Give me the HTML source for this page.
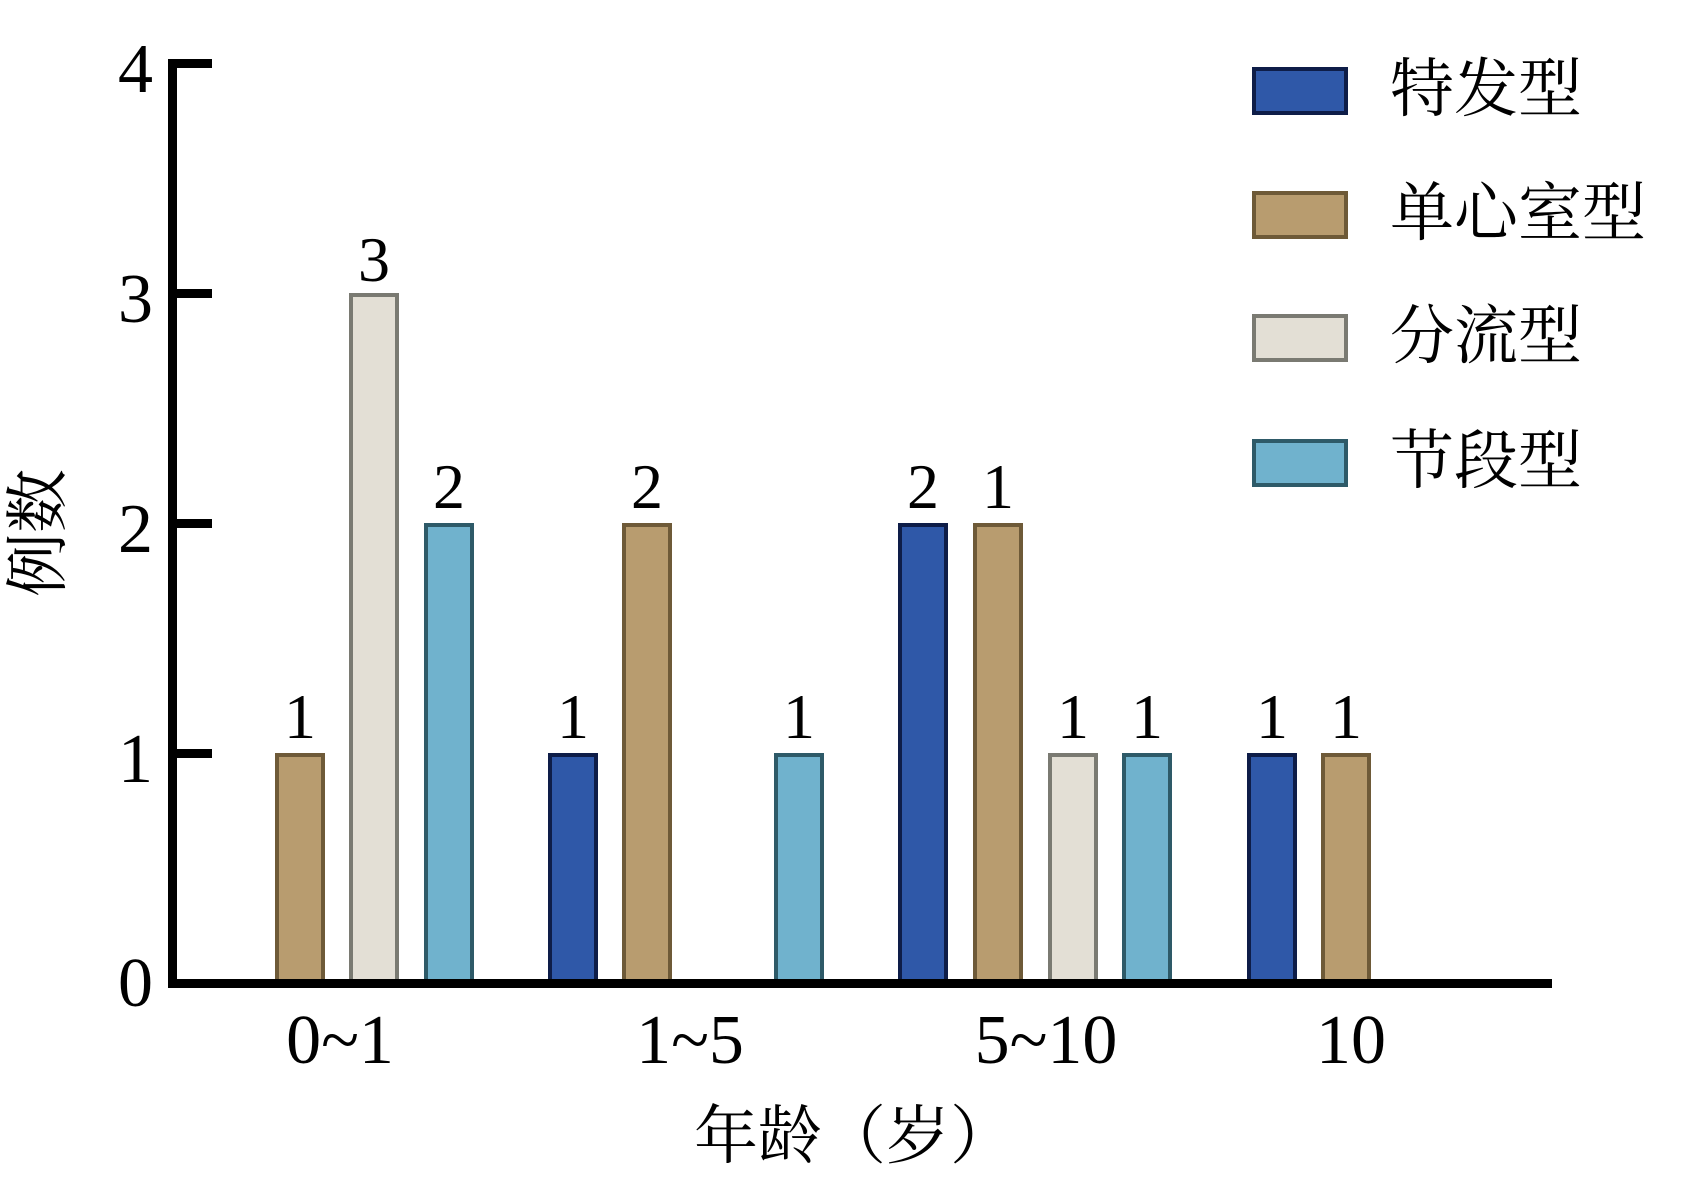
<!DOCTYPE html>
<html><head><meta charset="utf-8"><style>
html,body{margin:0;padding:0;background:#fff;}
svg{display:block;}
.t{font-family:"Liberation Serif","Noto Serif CJK SC",serif;fill:#000;}
</style></head><body>
<svg width="1706" height="1181" viewBox="0 0 1706 1181" xmlns="http://www.w3.org/2000/svg">
<rect width="1706" height="1181" fill="#fff"/>
<!-- bars -->
<g stroke-width="4">
<rect x="277" y="755" width="46" height="229" fill="#b89c6f" stroke="#6e5a38"/>
<rect x="351" y="295" width="46" height="689" fill="#e3dfd5" stroke="#7a7a72"/>
<rect x="426" y="525" width="46" height="459" fill="#70b2cd" stroke="#2e5a68"/>
<rect x="550" y="755" width="46" height="229" fill="#2f58a8" stroke="#0e1d48"/>
<rect x="624" y="525" width="46" height="459" fill="#b89c6f" stroke="#6e5a38"/>
<rect x="776" y="755" width="46" height="229" fill="#70b2cd" stroke="#2e5a68"/>
<rect x="900" y="525" width="46" height="459" fill="#2f58a8" stroke="#0e1d48"/>
<rect x="975" y="525" width="46" height="459" fill="#b89c6f" stroke="#6e5a38"/>
<rect x="1050" y="755" width="46" height="229" fill="#e3dfd5" stroke="#7a7a72"/>
<rect x="1124" y="755" width="46" height="229" fill="#70b2cd" stroke="#2e5a68"/>
<rect x="1249" y="755" width="46" height="229" fill="#2f58a8" stroke="#0e1d48"/>
<rect x="1323" y="755" width="46" height="229" fill="#b89c6f" stroke="#6e5a38"/>
</g>
<!-- axes -->
<rect x="168" y="63" width="9" height="925" fill="#000"/>
<rect x="168" y="979" width="1384" height="9" fill="#000"/>
<rect x="168" y="59" width="44" height="9" fill="#000"/>
<rect x="168" y="289" width="44" height="9" fill="#000"/>
<rect x="168" y="519" width="44" height="9" fill="#000"/>
<rect x="168" y="749" width="44" height="9" fill="#000"/>
<!-- y tick labels -->
<g class="t" font-size="70" text-anchor="end">
<text x="153" y="92">4</text>
<text x="153" y="322">3</text>
<text x="153" y="552">2</text>
<text x="153" y="782">1</text>
<text x="153" y="1006">0</text>
</g>
<!-- value labels -->
<g class="t" font-size="64" text-anchor="middle">
<text x="300" y="738">1</text>
<text x="374" y="281">3</text>
<text x="449" y="508">2</text>
<text x="573" y="738">1</text>
<text x="647" y="508">2</text>
<text x="799" y="738">1</text>
<text x="923" y="508">2</text>
<text x="998" y="508">1</text>
<text x="1073" y="738">1</text>
<text x="1147" y="738">1</text>
<text x="1272" y="738">1</text>
<text x="1346" y="738">1</text>
</g>
<!-- x labels -->
<g class="t" font-size="70" text-anchor="middle">
<text x="340" y="1063">0~1</text>
<text x="690" y="1063">1~5</text>
<text x="1046" y="1063">5~10</text>
<text x="1351" y="1063">10</text>
</g>
<text class="t" x="854" y="1158" font-size="64" text-anchor="middle">年龄（岁）</text>
<text class="t" font-size="64" text-anchor="middle" transform="translate(60,533) rotate(-90)">例数</text>
<!-- legend -->
<g stroke-width="4">
<rect x="1254" y="69" width="92" height="44" fill="#2f58a8" stroke="#0e1d48"/>
<rect x="1254" y="193" width="92" height="44" fill="#b89c6f" stroke="#6e5a38"/>
<rect x="1254" y="316" width="92" height="44" fill="#e3dfd5" stroke="#7a7a72"/>
<rect x="1254" y="441" width="92" height="44" fill="#70b2cd" stroke="#2e5a68"/>
</g>
<g class="t" font-size="64">
<text x="1390" y="111">特发型</text>
<text x="1390" y="235">单心室型</text>
<text x="1390" y="358">分流型</text>
<text x="1390" y="483">节段型</text>
</g>
</svg>
</body></html>
